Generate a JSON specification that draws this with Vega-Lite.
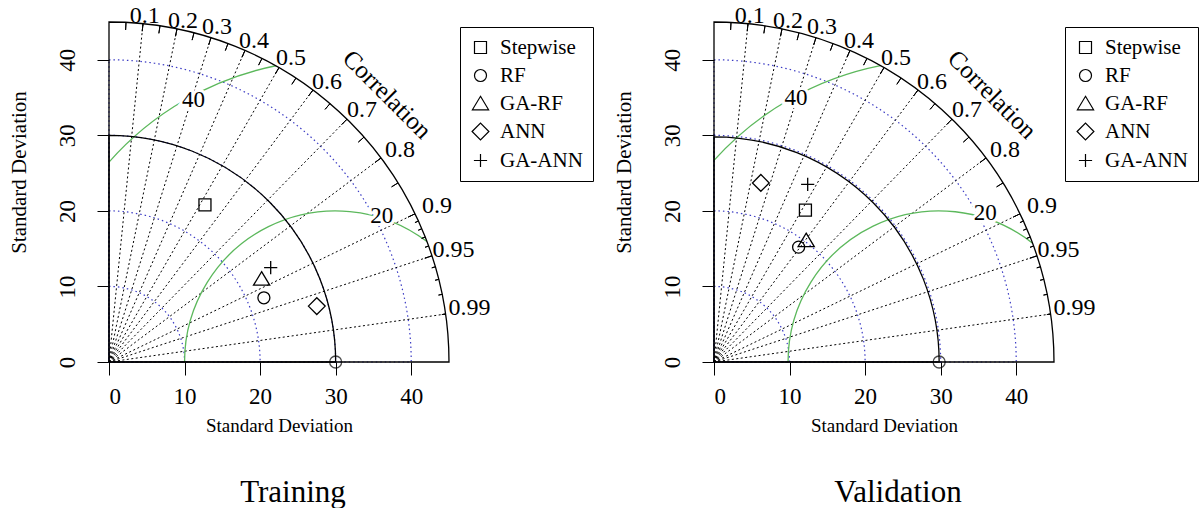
{
  "$schema": "https://vega.github.io/schema/vega-lite/v6.json",
  "background": "white",
  "padding": {"left": 8, "top": 3, "right": 0, "bottom": 0},
  "spacing": 19,
  "config": {
    "font": "Liberation Serif",
    "view": {"stroke": null},
    "text": {"font": "Liberation Serif"},
    "axis": {
      "labelFont": "Liberation Serif",
      "labelFontSize": 23,
      "labelColor": "black",
      "titleFont": "Liberation Serif",
      "titleFontWeight": "normal",
      "titleColor": "black",
      "tickColor": "black",
      "tickWidth": 1,
      "domain": false,
      "grid": false
    },
    "axisX": {"tickSize": 13, "labelPadding": 10, "labelAngle": 0, "titleFontSize": 19, "titlePadding": 8},
    "axisY": {"tickSize": 12, "labelPadding": 23, "labelAngle": 270, "labelAlign": "center", "labelBaseline": "alphabetic", "titleFontSize": 21, "titlePadding": 27},
    "legend": {
      "strokeColor": "black",
      "fillColor": "white",
      "cornerRadius": 0,
      "padding": 10,
      "rowPadding": 6,
      "labelFont": "Liberation Serif",
      "labelFontSize": 21,
      "labelColor": "black",
      "labelOffset": 9,
      "labelLimit": 200,
      "symbolSize": 144,
      "symbolStrokeWidth": 1.2,
      "symbolStrokeColor": "black"
    },
    "title": {"font": "Liberation Serif", "fontSize": 31, "fontWeight": "normal", "color": "black"}
  },
  "datasets": {
    "sdArcs": [
      {"cx": 0, "cy": 0, "r": 10, "r0": 0, "t1": 0, "t2": 1.5708},
      {"cx": 0, "cy": 0, "r": 20, "r0": 0, "t1": 0, "t2": 1.5708},
      {"cx": 0, "cy": 0, "r": 30, "r0": 0, "t1": 0, "t2": 1.5708},
      {"cx": 0, "cy": 0, "r": 40, "r0": 0, "t1": 0, "t2": 1.5708}
    ],
    "outerArc": [{"cx": 0, "cy": 0, "r": 45, "r0": 0, "t1": 0, "t2": 1.5708}],
    "corrRays": [
      {"cor": 0.1, "label": "0.1", "x0": 0, "y0": 0, "x": 4.5, "y": 44.774, "lx": 4.73, "ly": 45.8},
      {"cor": 0.2, "label": "0.2", "x0": 0, "y0": 0, "x": 9.0, "y": 44.091, "lx": 9.8, "ly": 45.1},
      {"cor": 0.3, "label": "0.3", "x0": 0, "y0": 0, "x": 13.5, "y": 42.927, "lx": 14.3, "ly": 44.3},
      {"cor": 0.4, "label": "0.4", "x0": 0, "y0": 0, "x": 18.0, "y": 41.243, "lx": 19.2, "ly": 42.55},
      {"cor": 0.5, "label": "0.5", "x0": 0, "y0": 0, "x": 22.5, "y": 38.971, "lx": 24.1, "ly": 40.25},
      {"cor": 0.6, "label": "0.6", "x0": 0, "y0": 0, "x": 27.0, "y": 36.0, "lx": 28.85, "ly": 37.1},
      {"cor": 0.7, "label": "0.7", "x0": 0, "y0": 0, "x": 31.5, "y": 32.137, "lx": 33.5, "ly": 33.3},
      {"cor": 0.8, "label": "0.8", "x0": 0, "y0": 0, "x": 36.0, "y": 27.0, "lx": 38.5, "ly": 28.0},
      {"cor": 0.9, "label": "0.9", "x0": 0, "y0": 0, "x": 40.5, "y": 19.615, "lx": 43.4, "ly": 20.6},
      {"cor": 0.95, "label": "0.95", "x0": 0, "y0": 0, "x": 42.75, "y": 14.051, "lx": 45.6, "ly": 14.8},
      {"cor": 0.99, "label": "0.99", "x0": 0, "y0": 0, "x": 44.55, "y": 6.348, "lx": 47.7, "ly": 7.15}
    ],
    "majorTicks": [
      {"cor": 0.05, "cx": 0, "cy": 0, "r": 45, "r0": 44, "theta": 0.05002},
      {"cor": 0.1, "cx": 0, "cy": 0, "r": 45, "r0": 44, "theta": 0.10017},
      {"cor": 0.15, "cx": 0, "cy": 0, "r": 45, "r0": 44, "theta": 0.15057},
      {"cor": 0.2, "cx": 0, "cy": 0, "r": 45, "r0": 44, "theta": 0.20136},
      {"cor": 0.25, "cx": 0, "cy": 0, "r": 45, "r0": 44, "theta": 0.25268},
      {"cor": 0.3, "cx": 0, "cy": 0, "r": 45, "r0": 44, "theta": 0.30469},
      {"cor": 0.35, "cx": 0, "cy": 0, "r": 45, "r0": 44, "theta": 0.35757},
      {"cor": 0.4, "cx": 0, "cy": 0, "r": 45, "r0": 44, "theta": 0.41152},
      {"cor": 0.45, "cx": 0, "cy": 0, "r": 45, "r0": 44, "theta": 0.46677},
      {"cor": 0.5, "cx": 0, "cy": 0, "r": 45, "r0": 44, "theta": 0.5236},
      {"cor": 0.55, "cx": 0, "cy": 0, "r": 45, "r0": 44, "theta": 0.58236},
      {"cor": 0.6, "cx": 0, "cy": 0, "r": 45, "r0": 44, "theta": 0.6435},
      {"cor": 0.65, "cx": 0, "cy": 0, "r": 45, "r0": 44, "theta": 0.70758},
      {"cor": 0.7, "cx": 0, "cy": 0, "r": 45, "r0": 44, "theta": 0.7754},
      {"cor": 0.75, "cx": 0, "cy": 0, "r": 45, "r0": 44, "theta": 0.84806},
      {"cor": 0.8, "cx": 0, "cy": 0, "r": 45, "r0": 44, "theta": 0.9273},
      {"cor": 0.85, "cx": 0, "cy": 0, "r": 45, "r0": 44, "theta": 1.01599},
      {"cor": 0.9, "cx": 0, "cy": 0, "r": 45, "r0": 44, "theta": 1.11977},
      {"cor": 0.95, "cx": 0, "cy": 0, "r": 45, "r0": 44, "theta": 1.25324},
      {"cor": 0.91, "cx": 0, "cy": 0, "r": 45, "r0": 44.5, "theta": 1.14328},
      {"cor": 0.92, "cx": 0, "cy": 0, "r": 45, "r0": 44.5, "theta": 1.16808},
      {"cor": 0.93, "cx": 0, "cy": 0, "r": 45, "r0": 44.5, "theta": 1.19441},
      {"cor": 0.94, "cx": 0, "cy": 0, "r": 45, "r0": 44.5, "theta": 1.22263},
      {"cor": 0.96, "cx": 0, "cy": 0, "r": 45, "r0": 44.5, "theta": 1.287},
      {"cor": 0.97, "cx": 0, "cy": 0, "r": 45, "r0": 44.5, "theta": 1.32523},
      {"cor": 0.98, "cx": 0, "cy": 0, "r": 45, "r0": 44.5, "theta": 1.37046},
      {"cor": 0.99, "cx": 0, "cy": 0, "r": 45, "r0": 44.5, "theta": 1.42925}
    ],
    "captions": [{"caption": "Correlation", "x": 36.8, "y": 35.4}],
    "trainRef": [{"sd": 30, "cx": 0, "cy": 0, "r0": 0, "t1": 0, "t2": 1.5708}],
    "validRef": [{"sd": 29.8, "cx": 0, "cy": 0, "r0": 0, "t1": 0, "t2": 1.5708}],
    "trainRms": [
      {"rms": 20, "cx": 30, "cy": 0, "t1": -1.5708, "t2": 0.6487, "lx": 36.1, "ly": 19.3, "label": "20"},
      {"rms": 40, "cx": 30, "cy": 0, "t1": -0.848, "t2": -0.1992, "lx": 11.2, "ly": 34.7, "label": "40"}
    ],
    "validRms": [
      {"rms": 20, "cx": 29.8, "cy": 0, "t1": -1.5708, "t2": 0.6665, "lx": 35.9, "ly": 19.7, "label": "20"},
      {"rms": 40, "cx": 29.8, "cy": 0, "t1": -0.8407, "t2": -0.1955, "lx": 10.85, "ly": 34.9, "label": "40"}
    ],
    "trainModels": [
      {"model": "Stepwise", "x": 12.7, "y": 20.8},
      {"model": "RF", "x": 20.5, "y": 8.5},
      {"model": "GA-RF", "x": 20.2, "y": 11.0},
      {"model": "ANN", "x": 27.5, "y": 7.4},
      {"model": "GA-ANN", "x": 21.4, "y": 12.5}
    ],
    "validModels": [
      {"model": "Stepwise", "x": 12.1, "y": 20.1},
      {"model": "RF", "x": 11.2, "y": 15.2},
      {"model": "GA-RF", "x": 12.2, "y": 16.1},
      {"model": "ANN", "x": 6.2, "y": 23.7},
      {"model": "GA-ANN", "x": 12.4, "y": 23.5}
    ]
  },
  "resolve": {"scale": {"x": "independent", "y": "independent", "shape": "independent", "radius": "independent"}},
  "hconcat": [
    {
      "width": 340,
      "height": 340,
      "title": {"text": "Training", "orient": "bottom", "frame": "group", "offset": 43, "dx": 14},
      "layer": [
        {
          "data": {"name": "sdArcs"},
          "mark": {"type": "arc", "filled": false, "stroke": "#3b3bc4", "strokeWidth": 1.2, "strokeDash": [1.5, 3]},
          "encoding": {
            "x": {"field": "cx", "type": "quantitative", "stack": null},
            "y": {"field": "cy", "type": "quantitative", "stack": null},
            "radius": {"field": "r", "type": "quantitative", "stack": null, "scale": {"type": "linear", "domain": [0, 45], "range": [0, 340], "zero": true, "nice": false}},
            "radius2": {"field": "r0"},
            "theta": {"field": "t1", "type": "quantitative", "scale": null, "stack": null},
            "theta2": {"field": "t2"}
          }
        },
        {
          "data": {"name": "corrRays"},
          "mark": {"type": "rule", "color": "black", "strokeWidth": 1, "strokeDash": [2, 2.5]},
          "encoding": {
            "x": {"field": "x0", "type": "quantitative"},
            "y": {"field": "y0", "type": "quantitative"},
            "x2": {"field": "x"},
            "y2": {"field": "y"}
          }
        },
        {
          "data": {"name": "trainRms"},
          "mark": {"type": "arc", "filled": false, "stroke": "#5cb85c", "strokeWidth": 1.3},
          "encoding": {
            "x": {"field": "cx", "type": "quantitative", "stack": null},
            "y": {"field": "cy", "type": "quantitative", "stack": null},
            "radius": {"field": "rms", "type": "quantitative", "stack": null, "scale": {"type": "linear", "domain": [0, 45], "range": [0, 340], "zero": true, "nice": false}},
            "radius2": {"field": "rms"},
            "theta": {"field": "t1", "type": "quantitative", "scale": null, "stack": null},
            "theta2": {"field": "t2"}
          }
        },
        {
          "data": {"name": "trainRms"},
          "mark": {"type": "text", "font": "Liberation Serif", "fontSize": 23, "color": "white", "stroke": "white", "strokeWidth": 6},
          "encoding": {
            "x": {"field": "lx", "type": "quantitative"},
            "y": {"field": "ly", "type": "quantitative"},
            "text": {"field": "label", "type": "nominal"}
          }
        },
        {
          "data": {"name": "trainRms"},
          "mark": {"type": "text", "font": "Liberation Serif", "fontSize": 23, "color": "black"},
          "encoding": {
            "x": {"field": "lx", "type": "quantitative"},
            "y": {"field": "ly", "type": "quantitative"},
            "text": {"field": "label", "type": "nominal"}
          }
        },
        {
          "data": {"name": "trainRef"},
          "mark": {"type": "arc", "filled": false, "stroke": "black", "strokeWidth": 1.3},
          "encoding": {
            "x": {"field": "cx", "type": "quantitative", "stack": null},
            "y": {"field": "cy", "type": "quantitative", "stack": null},
            "radius": {"field": "sd", "type": "quantitative", "stack": null, "scale": {"type": "linear", "domain": [0, 45], "range": [0, 340], "zero": true, "nice": false}},
            "radius2": {"field": "r0"},
            "theta": {"field": "t1", "type": "quantitative", "scale": null, "stack": null},
            "theta2": {"field": "t2"}
          }
        },
        {
          "data": {"name": "outerArc"},
          "mark": {"type": "arc", "filled": false, "stroke": "black", "strokeWidth": 1.3},
          "encoding": {
            "x": {"field": "cx", "type": "quantitative", "stack": null},
            "y": {"field": "cy", "type": "quantitative", "stack": null},
            "radius": {"field": "r", "type": "quantitative", "stack": null, "scale": {"type": "linear", "domain": [0, 45], "range": [0, 340], "zero": true, "nice": false}},
            "radius2": {"field": "r0"},
            "theta": {"field": "t1", "type": "quantitative", "scale": null, "stack": null},
            "theta2": {"field": "t2"}
          }
        },
        {
          "data": {"name": "majorTicks"},
          "mark": {"type": "arc", "filled": false, "stroke": "black", "strokeWidth": 1},
          "encoding": {
            "x": {"field": "cx", "type": "quantitative", "stack": null},
            "y": {"field": "cy", "type": "quantitative", "stack": null},
            "radius": {"field": "r", "type": "quantitative", "stack": null, "scale": {"type": "linear", "domain": [0, 45], "range": [0, 340], "zero": true, "nice": false}},
            "radius2": {"field": "r0"},
            "theta": {"field": "theta", "type": "quantitative", "scale": null, "stack": null},
            "theta2": {"field": "theta"}
          }
        },
        {
          "data": {"name": "corrRays"},
          "mark": {"type": "text", "font": "Liberation Serif", "fontSize": 24, "color": "black", "align": "center", "baseline": "middle"},
          "encoding": {
            "x": {"field": "lx", "type": "quantitative"},
            "y": {"field": "ly", "type": "quantitative"},
            "text": {"field": "label", "type": "nominal"}
          }
        },
        {
          "data": {"name": "captions"},
          "mark": {"type": "text", "font": "Liberation Serif", "fontSize": 25, "color": "black", "angle": 45, "align": "center", "baseline": "middle"},
          "encoding": {
            "x": {"field": "x", "type": "quantitative"},
            "y": {"field": "y", "type": "quantitative"},
            "text": {"field": "caption", "type": "nominal"}
          }
        },
        {
          "data": {"name": "trainRef"},
          "mark": {"type": "point", "shape": "circle", "filled": false, "color": "black", "size": 144, "strokeWidth": 1.3},
          "encoding": {
            "x": {"field": "sd", "type": "quantitative"},
            "y": {"field": "cy", "type": "quantitative"}
          }
        },
        {
          "data": {"name": "trainModels"},
          "mark": {"type": "point", "filled": false, "color": "black", "size": 144, "strokeWidth": 1.3, "opacity": 1},
          "encoding": {
            "x": {"field": "x", "type": "quantitative", "scale": {"domain": [0, 45], "nice": false, "zero": true}, "axis": {"title": "Standard Deviation", "values": [0, 10, 20, 30, 40]}},
            "y": {"field": "y", "type": "quantitative", "scale": {"domain": [0, 45], "nice": false, "zero": true}, "axis": {"title": "Standard Deviation", "values": [0, 10, 20, 30, 40], "titleY": 150}},
            "shape": {
              "field": "model",
              "type": "nominal",
              "scale": {
                "domain": ["Stepwise", "RF", "GA-RF", "ANN", "GA-ANN"],
                "range": ["M-1,-1L1,-1L1,1L-1,1Z", "circle", "M0,-1.2L1.35,1.05L-1.35,1.05Z", "M-1.4,0L0,-1.4L1.4,0L0,1.4Z", "M-1.1,0L1.1,0M0,-1.1L0,1.1"]
              },
              "legend": {"title": null, "orient": "none", "legendX": 351, "legendY": 5}
            }
          }
        }
      ]
    },
    {
      "width": 340,
      "height": 340,
      "title": {"text": "Validation", "orient": "bottom", "frame": "group", "offset": 43, "dx": 14},
      "layer": [
        {
          "data": {"name": "sdArcs"},
          "mark": {"type": "arc", "filled": false, "stroke": "#3b3bc4", "strokeWidth": 1.2, "strokeDash": [1.5, 3]},
          "encoding": {
            "x": {"field": "cx", "type": "quantitative", "stack": null},
            "y": {"field": "cy", "type": "quantitative", "stack": null},
            "radius": {"field": "r", "type": "quantitative", "stack": null, "scale": {"type": "linear", "domain": [0, 45], "range": [0, 340], "zero": true, "nice": false}},
            "radius2": {"field": "r0"},
            "theta": {"field": "t1", "type": "quantitative", "scale": null, "stack": null},
            "theta2": {"field": "t2"}
          }
        },
        {
          "data": {"name": "corrRays"},
          "mark": {"type": "rule", "color": "black", "strokeWidth": 1, "strokeDash": [2, 2.5]},
          "encoding": {
            "x": {"field": "x0", "type": "quantitative"},
            "y": {"field": "y0", "type": "quantitative"},
            "x2": {"field": "x"},
            "y2": {"field": "y"}
          }
        },
        {
          "data": {"name": "validRms"},
          "mark": {"type": "arc", "filled": false, "stroke": "#5cb85c", "strokeWidth": 1.3},
          "encoding": {
            "x": {"field": "cx", "type": "quantitative", "stack": null},
            "y": {"field": "cy", "type": "quantitative", "stack": null},
            "radius": {"field": "rms", "type": "quantitative", "stack": null, "scale": {"type": "linear", "domain": [0, 45], "range": [0, 340], "zero": true, "nice": false}},
            "radius2": {"field": "rms"},
            "theta": {"field": "t1", "type": "quantitative", "scale": null, "stack": null},
            "theta2": {"field": "t2"}
          }
        },
        {
          "data": {"name": "validRms"},
          "mark": {"type": "text", "font": "Liberation Serif", "fontSize": 23, "color": "white", "stroke": "white", "strokeWidth": 6},
          "encoding": {
            "x": {"field": "lx", "type": "quantitative"},
            "y": {"field": "ly", "type": "quantitative"},
            "text": {"field": "label", "type": "nominal"}
          }
        },
        {
          "data": {"name": "validRms"},
          "mark": {"type": "text", "font": "Liberation Serif", "fontSize": 23, "color": "black"},
          "encoding": {
            "x": {"field": "lx", "type": "quantitative"},
            "y": {"field": "ly", "type": "quantitative"},
            "text": {"field": "label", "type": "nominal"}
          }
        },
        {
          "data": {"name": "validRef"},
          "mark": {"type": "arc", "filled": false, "stroke": "black", "strokeWidth": 1.3},
          "encoding": {
            "x": {"field": "cx", "type": "quantitative", "stack": null},
            "y": {"field": "cy", "type": "quantitative", "stack": null},
            "radius": {"field": "sd", "type": "quantitative", "stack": null, "scale": {"type": "linear", "domain": [0, 45], "range": [0, 340], "zero": true, "nice": false}},
            "radius2": {"field": "r0"},
            "theta": {"field": "t1", "type": "quantitative", "scale": null, "stack": null},
            "theta2": {"field": "t2"}
          }
        },
        {
          "data": {"name": "outerArc"},
          "mark": {"type": "arc", "filled": false, "stroke": "black", "strokeWidth": 1.3},
          "encoding": {
            "x": {"field": "cx", "type": "quantitative", "stack": null},
            "y": {"field": "cy", "type": "quantitative", "stack": null},
            "radius": {"field": "r", "type": "quantitative", "stack": null, "scale": {"type": "linear", "domain": [0, 45], "range": [0, 340], "zero": true, "nice": false}},
            "radius2": {"field": "r0"},
            "theta": {"field": "t1", "type": "quantitative", "scale": null, "stack": null},
            "theta2": {"field": "t2"}
          }
        },
        {
          "data": {"name": "majorTicks"},
          "mark": {"type": "arc", "filled": false, "stroke": "black", "strokeWidth": 1},
          "encoding": {
            "x": {"field": "cx", "type": "quantitative", "stack": null},
            "y": {"field": "cy", "type": "quantitative", "stack": null},
            "radius": {"field": "r", "type": "quantitative", "stack": null, "scale": {"type": "linear", "domain": [0, 45], "range": [0, 340], "zero": true, "nice": false}},
            "radius2": {"field": "r0"},
            "theta": {"field": "theta", "type": "quantitative", "scale": null, "stack": null},
            "theta2": {"field": "theta"}
          }
        },
        {
          "data": {"name": "corrRays"},
          "mark": {"type": "text", "font": "Liberation Serif", "fontSize": 24, "color": "black", "align": "center", "baseline": "middle"},
          "encoding": {
            "x": {"field": "lx", "type": "quantitative"},
            "y": {"field": "ly", "type": "quantitative"},
            "text": {"field": "label", "type": "nominal"}
          }
        },
        {
          "data": {"name": "captions"},
          "mark": {"type": "text", "font": "Liberation Serif", "fontSize": 25, "color": "black", "angle": 45, "align": "center", "baseline": "middle"},
          "encoding": {
            "x": {"field": "x", "type": "quantitative"},
            "y": {"field": "y", "type": "quantitative"},
            "text": {"field": "caption", "type": "nominal"}
          }
        },
        {
          "data": {"name": "validRef"},
          "mark": {"type": "point", "shape": "circle", "filled": false, "color": "black", "size": 144, "strokeWidth": 1.3},
          "encoding": {
            "x": {"field": "sd", "type": "quantitative"},
            "y": {"field": "cy", "type": "quantitative"}
          }
        },
        {
          "data": {"name": "validModels"},
          "mark": {"type": "point", "filled": false, "color": "black", "size": 144, "strokeWidth": 1.3, "opacity": 1},
          "encoding": {
            "x": {"field": "x", "type": "quantitative", "scale": {"domain": [0, 45], "nice": false, "zero": true}, "axis": {"title": "Standard Deviation", "values": [0, 10, 20, 30, 40]}},
            "y": {"field": "y", "type": "quantitative", "scale": {"domain": [0, 45], "nice": false, "zero": true}, "axis": {"title": "Standard Deviation", "values": [0, 10, 20, 30, 40], "titleY": 150}},
            "shape": {
              "field": "model",
              "type": "nominal",
              "scale": {
                "domain": ["Stepwise", "RF", "GA-RF", "ANN", "GA-ANN"],
                "range": ["M-1,-1L1,-1L1,1L-1,1Z", "circle", "M0,-1.2L1.35,1.05L-1.35,1.05Z", "M-1.4,0L0,-1.4L1.4,0L0,1.4Z", "M-1.1,0L1.1,0M0,-1.1L0,1.1"]
              },
              "legend": {"title": null, "orient": "none", "legendX": 351, "legendY": 5}
            }
          }
        }
      ]
    }
  ]
}
